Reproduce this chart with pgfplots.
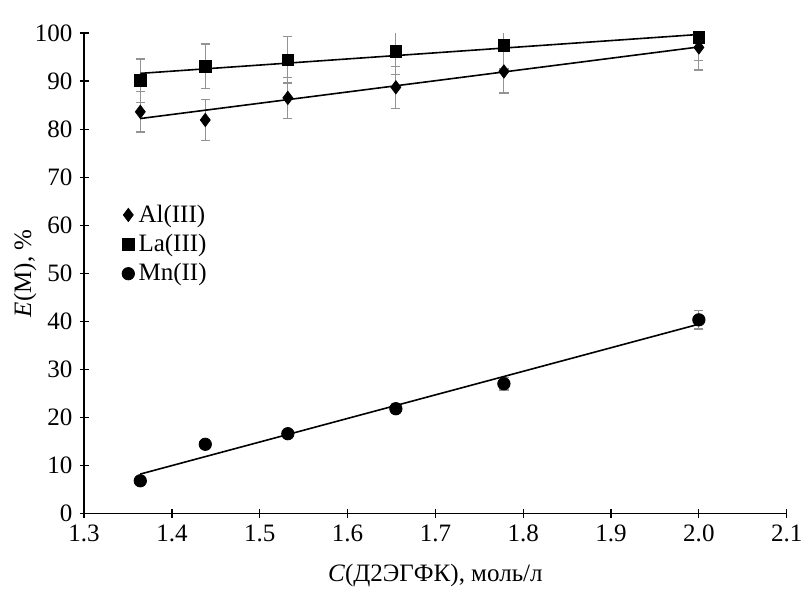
\documentclass[border=0pt]{standalone}
\usepackage{fontspec}
\setmainfont{Liberation Serif}
\usepackage{pgfplots}
\pgfplotsset{compat=1.18}

\begin{document}
\begin{tikzpicture}
\begin{axis}[
  scale only axis,
  width=351pt, height=240pt,
  xmin=1.3, xmax=2.1, ymin=0, ymax=100,
  axis lines=left,
  axis line style={-, line width=0.6pt},
  xtick={1.3,1.4,...,2.1},
  ytick={0,10,...,100},
  tick style={black, line width=0.6pt},
  major tick length=4.5pt,
  /pgf/number format/assume math mode=true,
  xticklabel style={/pgf/number format/.cd, fixed, fixed zerofill, precision=1},
  tick label style={font=\fontsize{12.5}{14}\selectfont},
  label style={font=\fontsize{12.5}{14}\selectfont},
  xlabel={\textit{C}(Д2ЭГФК), моль/л},
  ylabel={\textit{E}(M), \%},
  xlabel style={at={(axis description cs:0.5,0)}, anchor=center, yshift=-31pt},
  ylabel style={at={(axis description cs:0,0.5)}, anchor=center, yshift=29.5pt},
  legend style={draw=none, fill=none, at={(0.045,0.66)}, anchor=north west,
    font=\fontsize{12.5}{14}\selectfont, row sep=0.5pt,
    /tikz/every even column/.append style={column sep=0pt}},
  legend cell align=left,
  legend image code/.code={\draw[#1] (0.1cm,0cm) -- plot coordinates {(0.1cm,0cm)};},
  error bars/error bar style={draw=gray!85, line width=0.6pt},
  error bars/error mark options={rotate=90, draw=gray!85, mark size=2.3pt, line width=0.6pt},
  after end axis/.code={
    \path (rel axis cs:0,1) ++(0,16.5pt);
    \path (rel axis cs:0,0) ++(-42pt,-39.5pt);
  },
]
% Al(III)
\addplot[only marks, mark=diamond*, mark size=3.3pt, black,
  error bars/.cd, y dir=both, y explicit]
  coordinates {
  (1.364,83.6) +- (0,4.2)
  (1.438,81.9) +- (0,4.2)
  (1.532,86.5) +- (0,4.3)
  (1.655,88.7) +- (0,4.4)
  (1.778,92.0) +- (0,4.5)
  (2.000,97.0) +- (0,4.7)
};
\addlegendentry{Al(III)}
% La(III)
\addplot[only marks, mark=square*, mark size=2.9pt, black,
  error bars/.cd, y dir=both, y explicit]
  coordinates {
  (1.364,90.1) +- (0,4.5)
  (1.438,93.1) +- (0,4.6)
  (1.532,94.4) +- (0,4.8)
  (1.655,96.2) +- (0,4.8)
  (1.778,97.4) +- (0,4.9)
  (2.000,99.1) +- (0,4.9)
};
\addlegendentry{La(III)}
% Mn(II)
\addplot[only marks, mark=*, mark size=3.1pt, black,
  error bars/.cd, y dir=both, y explicit]
  coordinates {
  (1.364,6.8) +- (0,0.5)
  (1.438,14.4) +- (0,0.5)
  (1.532,16.6) +- (0,0.5)
  (1.655,21.8) +- (0,1.0)
  (1.778,27.0) +- (0,1.3)
  (2.000,40.3) +- (0,1.9)
};
\addlegendentry{Mn(II)}
% trend lines
\addplot[black, line width=0.8pt, forget plot] coordinates {(1.364,82.2) (2.0,97.1)};
\addplot[black, line width=0.8pt, forget plot] coordinates {(1.364,91.6) (2.0,99.7)};
\addplot[black, line width=0.8pt, forget plot] coordinates {(1.364,8.2) (2.0,39.4)};
\end{axis}
\end{tikzpicture}
\end{document}
